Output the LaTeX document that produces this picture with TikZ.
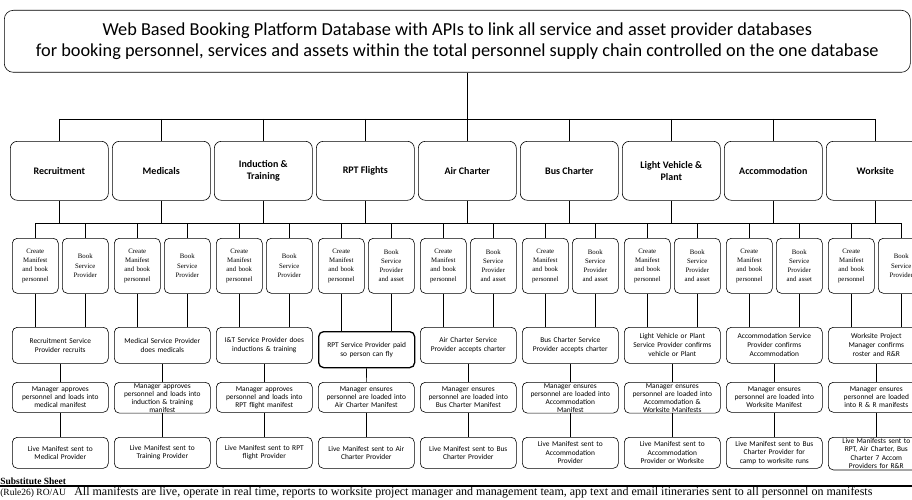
\documentclass[tikz,border=0pt]{standalone}
\usepackage{fontspec}
\setmainfont{Carlito}
\newfontfamily\serifface{Liberation Serif}
\usetikzlibrary{positioning}

\begin{document}
\begin{tikzpicture}[x=1pt,y=-1pt,line width=0.6pt]
\tikzstyle{head}=[draw, rounded corners=9pt, minimum width=906pt, minimum height=62pt, align=center, font=\fontsize{18.3}{20.5}\selectfont]
\tikzstyle{catbox}=[draw, rounded corners=7pt, minimum width=98pt, minimum height=59pt, align=center, font=\bfseries\fontsize{10}{12}\selectfont]
\tikzstyle{subbox}=[draw, rounded corners=5pt, minimum width=46pt, minimum height=55pt, text width=44pt, inner sep=1pt, align=center, font=\serifface\fontsize{6.8}{9.2}\selectfont]
\tikzstyle{provbox}=[draw, rounded corners=5pt, minimum width=96pt, minimum height=36pt, text width=94pt, inner sep=1pt, align=center, font=\fontsize{7.4}{9}\selectfont]
\tikzstyle{manbox}=[provbox, minimum height=30pt, font=\fontsize{7.4}{8}\selectfont]
\tikzstyle{livebox}=[provbox, minimum height=31pt, font=\fontsize{7.4}{8.5}\selectfont]
\useasboundingbox (0,0) rectangle (912,500);
\clip (0,0) rectangle (912,500);

\node[head, anchor=north west] (db) at (4,10) {Web Based Booking Platform Database with APIs to link all service and asset provider databases\\for booking personnel, services and assets within the total personnel supply chain controlled on the one database};

\foreach \name [count=\i from 0] in {Recruitment, Medicals, {Induction \&\\Training}, RPT Flights, Air Charter, Bus Charter, {Light Vehicle \&\\Plant}, Accommodation, Worksite}
  \node[catbox, anchor=north west] (cat\i) at ({10+102*\i},141) {\name};

\foreach \i in {0,...,8}
  \node[subbox, anchor=north west] (sa\i) at ({12+102*\i},238) {Create\\Manifest\\and book\\personnel};
\foreach \txt [count=\i from 0] in {{Book\\Service\\Provider}, {Book\\Service\\Provider}, {Book\\Service\\Provider}, {Book\\Service\\Provider\\and asset}, {Book\\Service\\Provider\\and asset}, {Book\\Service\\Provider\\and asset}, {Book\\Service\\Provider\\and asset}, {Book\\Service\\Provider\\and asset}, {Book\\Service\\Provider}}
  \node[subbox, anchor=north west] (sb\i) at ({62+102*\i},238) {\txt};

\foreach \txt [count=\i from 0] in {{Recruitment Service\\Provider recruits}, {Medical Service Provider\\does medicals}, {I\&T Service Provider does\\inductions \& training}, {RPT Service Provider paid\\so person can fly}, {Air Charter Service\\Provider accepts charter}, {Bus Charter Service\\Provider accepts charter}, {Light Vehicle or Plant\\Service Provider confirms\\vehicle or Plant}, {Accommodation Service\\Provider confirms\\Accommodation}, {Worksite Project\\Manager confirms\\roster and R\&R}} {
  \ifnum\i=3
    \node[provbox, line width=1.3pt, anchor=north west] (prov\i) at ({12+102*\i},331) {\txt};
  \else
    \node[provbox, anchor=north west] (prov\i) at ({12+102*\i},327) {\txt};
  \fi
}

\foreach \txt [count=\i from 0] in {{Manager approves\\personnel and loads into\\medical manifest}, {Manager approves\\personnel and loads into\\induction \& training\\manifest}, {Manager approves\\personnel and loads into\\RPT flight manifest}, {Manager ensures\\personnel are loaded into\\Air Charter Manifest}, {Manager ensures\\personnel are loaded into\\Bus Charter Manifest}, {Manager ensures\\personnel are loaded into\\Accommodation\\Manifest}, {Manager ensures\\personnel are loaded into\\Accommodation \&\\Worksite Manifests}, {Manager ensures\\personnel are loaded into\\Worksite Manifest}, {Manager ensures\\personnel are loaded\\into R \& R manifests}}
  \node[manbox, anchor=north west] (man\i) at ({12+102*\i},382) {\txt};

\foreach \txt [count=\i from 0] in {{Live Manifest sent to\\Medical Provider}, {Live Manifest sent to\\Training Provider}, {Live Manifest sent to RPT\\flight Provider}, {Live Manifest sent to Air\\Charter Provider}, {Live Manifest sent to Bus\\Charter Provider}, {Live Manifest sent to\\Accommodation\\Provider}, {Live Manifest sent to\\Accommodation\\Provider or Worksite}, {Live Manifest sent to Bus\\Charter Provider for\\camp to worksite runs}, {Live Manifests sent to\\RPT, Air Charter, Bus\\Charter 7 Accom\\Providers for R\&R}}
  \node[livebox, anchor=north west] (live\i) at ({12+102*\i},437) {\txt};

\coordinate (busA) at (0,119);
\coordinate (busB) at (0,223);
\draw (cat4.north |- db.south) -- (cat4.north);
\draw (cat0.north |- busA) -- (cat8.north |- busA);
\draw (sa0.north |- busB) -- (sb8.north |- busB);
\foreach \i in {0,...,8} {
  \draw (cat\i.north |- busA) -- (cat\i.north);
  \draw (cat\i.south) -- (cat\i.south |- busB);
  \draw (sa\i.north |- busB) -- (sa\i.north);
  \draw (sb\i.north |- busB) -- (sb\i.north);
  \draw (sa\i.south) -- (sa\i.south |- prov\i.north);
  \draw (sb\i.south) -- (sb\i.south |- prov\i.north);
  \draw (prov\i) -- (man\i);
  \draw (man\i) -- (live\i);
}

\draw[line width=1.6pt] (0,486) -- (912,486);
\node[anchor=south west, inner sep=0pt, font=\serifface\bfseries\fontsize{9.5}{9.5}\selectfont] (sheet) at (0,485) {Substitute Sheet};
\node[anchor=north west, inner sep=0pt, font=\serifface\fontsize{9.5}{9.5}\selectfont] (rule) at (0,489) {(Rule26) RO/AU};
\node[anchor=west, inner sep=0pt, font=\serifface\fontsize{12}{12}\selectfont] (note) at (74,493) {All manifests are live, operate in real time, reports to worksite project manager and management team, app text and email itineraries sent to all personnel on manifests};
\end{tikzpicture}
\end{document}
